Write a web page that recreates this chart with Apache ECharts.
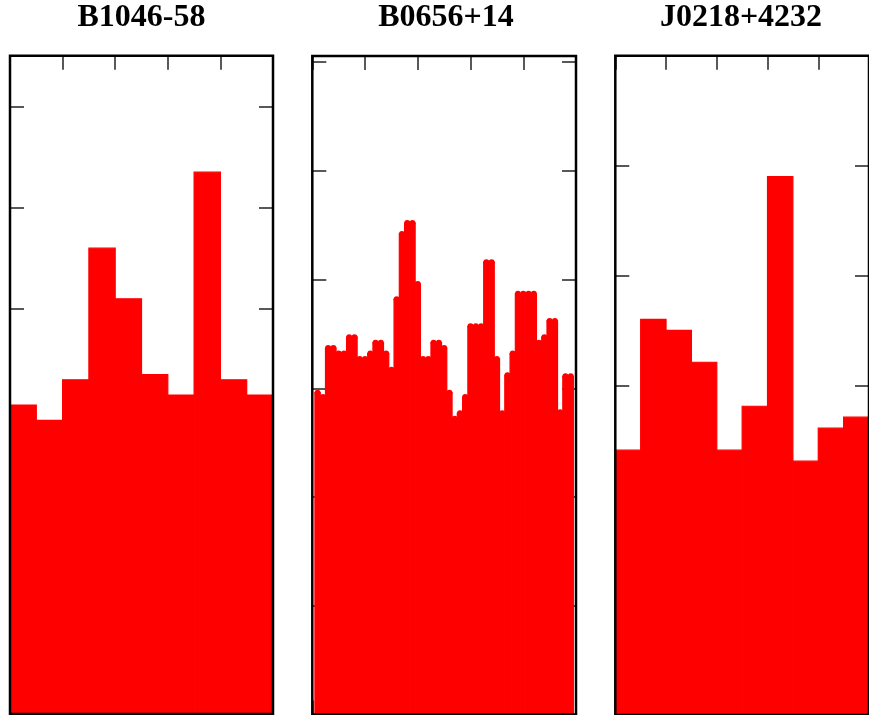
<!DOCTYPE html>
<html>
<head>
<meta charset="utf-8">
<script src="https://cdn.jsdelivr.net/npm/echarts@6/dist/echarts.min.js"></script>
<style>
html,body{margin:0;padding:0;background:#fff;}
#chart{width:869px;height:715px;}
</style>
</head>
<body>
<div id="chart"></div>
<script>
// ---- Data ----
const titles = ["B1046-58", "B0656+14", "J0218+4232"];

// Panel 1: 10 bins (bin index 0..10)
const p1Values = [3.05, 2.90, 3.30, 4.60, 4.10, 3.35, 3.15, 5.35, 3.30, 3.15];

// Panel 2: 49 bins, width 0.1, first bin starts at 0.05
const p2BinStart = 0.05;
const p2BinWidth = 0.1;
const p2Values = [2.96, 2.92, 3.37, 3.37, 3.32, 3.32, 3.47, 3.47, 3.27, 3.27,
                  3.32, 3.42, 3.42, 3.32, 3.17, 3.82, 4.42, 4.52, 4.52, 3.96,
                  3.27, 3.27, 3.42, 3.42, 3.37, 2.96, 2.72, 2.77, 2.92, 3.57,
                  3.57, 3.57, 4.16, 4.16, 3.27, 2.77, 3.12, 3.32, 3.87, 3.87,
                  3.87, 3.87, 3.42, 3.47, 3.62, 3.62, 2.78, 3.11, 3.11];

// Panel 3: 10 bins
const p3Values = [2.41, 3.60, 3.50, 3.21, 2.41, 2.81, 4.90, 2.31, 2.61, 2.71];

// ---- Build ----
const RED = '#ff0000';
function unitBins(vals) { return vals.map((v, i) => [i, i + 1, v]); }
const p1Data = unitBins(p1Values);
const p3Data = unitBins(p3Values);
const p2Data = p2Values.map((v, i) => [p2BinStart + i * p2BinWidth, p2BinStart + (i + 1) * p2BinWidth, v]);

function histItem(params, api) {
  const a = api.coord([api.value(0), api.value(2)]);
  const b = api.coord([api.value(1), 0]);
  return {
    type: 'rect',
    shape: { x: a[0], y: a[1], width: b[0] - a[0], height: b[1] - a[1] },
    style: { fill: RED, stroke: RED, lineWidth: 1.2 }
  };
}
function histDotItem(params, api) {
  const a = api.coord([api.value(0), api.value(2)]);
  const b = api.coord([api.value(1), 0]);
  const c = api.coord([(api.value(0) + api.value(1)) / 2, api.value(2)]);
  return {
    type: 'group',
    children: [
      { type: 'rect', shape: { x: a[0], y: a[1], width: b[0] - a[0], height: b[1] - a[1] }, style: { fill: RED, stroke: RED, lineWidth: 1.2 } },
      { type: 'circle', shape: { cx: c[0], cy: c[1], r: 3 }, style: { fill: RED } }
    ]
  };
}

const grids = [
  { left: 10, top: 55.7, width: 263, height: 658.3 },
  { left: 312.3, top: 56, width: 263.7, height: 658.4 },
  { left: 615.3, top: 55.7, width: 263, height: 660 }
].map(g => Object.assign({ show: true, borderColor: '#000', borderWidth: 2.5, backgroundColor: 'transparent', z: 10 }, g));

const xRanges = [[0, 10, 2], [0, 5, 1], [0, 10, 2]];
const yRanges = [[0, 6.5, 1], [0, 6.057, 1], [0, 6.0, 1]];

function tick() { return { show: true, inside: true, length: 14, lineStyle: { color: '#222', width: 1.5 } }; }
function axisCommon(g, pos, r) {
  return {
    type: 'value', gridIndex: g, position: pos, min: r[0], max: r[1], interval: r[2],
    axisLine: { show: true, onZero: false, lineStyle: { color: '#000', width: 0.1, opacity: 0 } },
    axisTick: tick(), axisLabel: { show: false }, splitLine: { show: false }
  };
}
const xAxes = [], yAxes = [];
for (let g = 0; g < 3; g++) {
  xAxes.push(axisCommon(g, 'bottom', xRanges[g]));
  xAxes.push(axisCommon(g, 'top', xRanges[g]));
  yAxes.push(axisCommon(g, 'left', yRanges[g]));
  yAxes.push(axisCommon(g, 'right', yRanges[g]));
}

const titleX = [141.5, 446, 741];
const option = {
  animation: false,
  backgroundColor: '#fff',
  grid: grids,
  xAxis: xAxes,
  yAxis: yAxes,
  graphic: titles.map((t, i) => ({
    type: 'text', x: titleX[i], y: 18,
    style: { text: t, fontFamily: 'Liberation Serif', fontWeight: 'bold', fontSize: 32, fill: '#000',
             textAlign: 'center', textVerticalAlign: 'middle' }
  })),
  series: [
    { type: 'custom', xAxisIndex: 0, yAxisIndex: 0, data: p1Data, renderItem: histItem, encode: { x: [0, 1], y: 2 } },
    { type: 'custom', xAxisIndex: 2, yAxisIndex: 2, data: p2Data, renderItem: histDotItem, encode: { x: [0, 1], y: 2 } },
    { type: 'custom', xAxisIndex: 4, yAxisIndex: 4, data: p3Data, renderItem: histItem, encode: { x: [0, 1], y: 2 } }
  ]
};
const chart = echarts.init(document.getElementById('chart'), null, { renderer: 'canvas' });
chart.setOption(option);
</script>
</body>
</html>
